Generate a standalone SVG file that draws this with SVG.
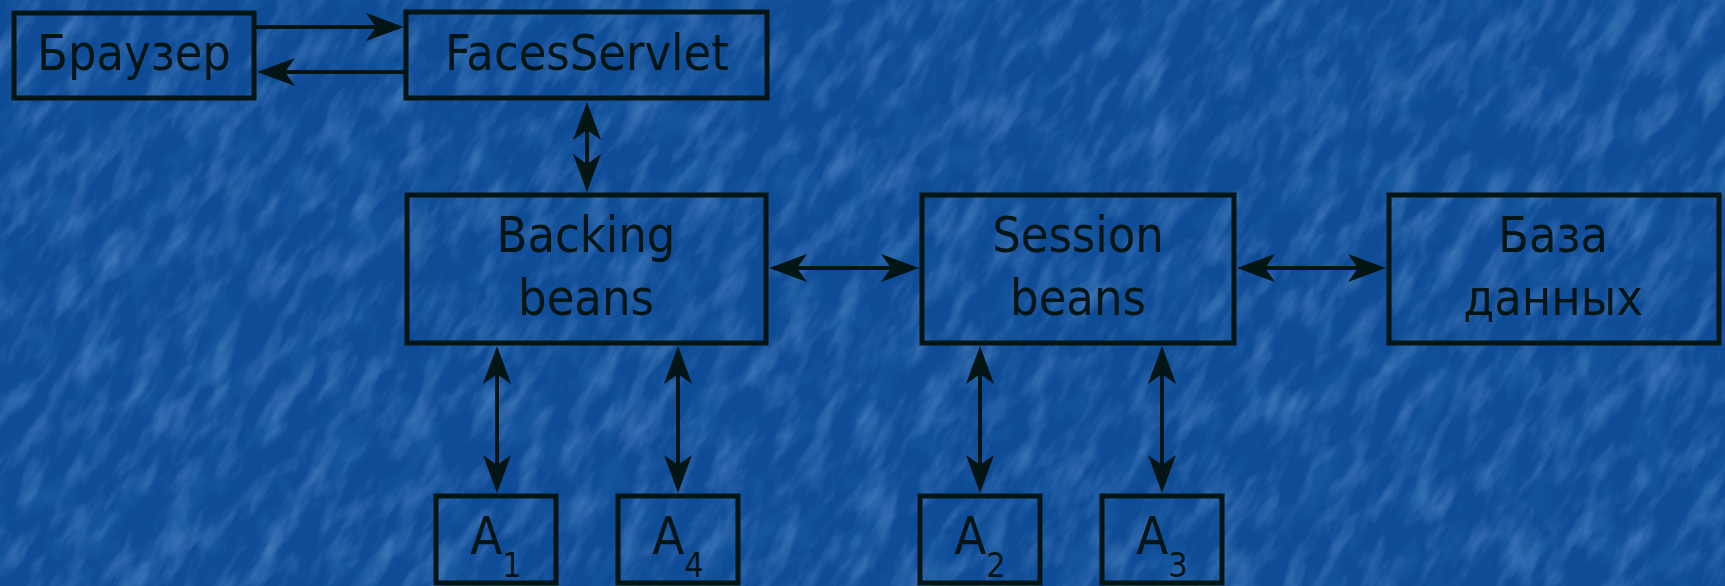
<svg xmlns="http://www.w3.org/2000/svg" width="1725" height="586" viewBox="0 0 1725 586">
<style>
.box{fill:none;stroke:#041516;stroke-width:5}
.lbl{font-family:'DejaVu Sans Condensed','DejaVu Sans',sans-serif;font-stretch:condensed;font-size:50px;fill:#041516;text-anchor:middle}
.big{font-size:52px}
.sub{font-size:34px}
.con{stroke:#041516;stroke-width:4;fill:none}
.one{marker-end:url(#ah)}
.two{marker-start:url(#ah);marker-end:url(#ah)}
</style>
<defs>
<marker id="ah" viewBox="0 0 38 28" refX="32" refY="14" markerWidth="38" markerHeight="28" markerUnits="userSpaceOnUse" orient="auto-start-reverse">
<path d="M38,14 L0,0 L10,14 L0,28 Z" fill="#041516"/>
</marker>
<filter id="tex" x="0" y="0" width="100%" height="100%">
<feTurbulence type="fractalNoise" baseFrequency="0.018 0.05" numOctaves="4" seed="7"/>
<feColorMatrix type="matrix" values="0 0 0 0 0.3  0 0 0 0 0.52  0 0 0 0 0.88  0.75 0 0 0 -0.34"/>
</filter>
<filter id="tex2" x="0" y="0" width="100%" height="100%">
<feTurbulence type="fractalNoise" baseFrequency="0.02 0.035" numOctaves="3" seed="2"/>
<feColorMatrix type="matrix" values="0 0 0 0 0.02  0 0 0 0 0.18  0 0 0 0 0.45  -0.9 0 0 0 0.45"/>
</filter>
</defs>
<rect width="1725" height="586" fill="#0f4c97"/>
<g transform="rotate(-60 862 293)">
<rect x="-88" y="-657" width="1900" height="1900" filter="url(#tex2)"/>
<rect x="-88" y="-657" width="1900" height="1900" filter="url(#tex)"/>
</g>
<g id="connectors">
<line class="con one" x1="256" y1="27" x2="398" y2="27"/>
<line class="con one" x1="404" y1="72" x2="263" y2="72"/>
<line class="con two" x1="587" y1="108" x2="587" y2="186"/>
<line class="con two" x1="775" y1="268" x2="913" y2="268"/>
<line class="con two" x1="1243" y1="268" x2="1380" y2="268"/>
<line class="con two" x1="497" y1="352" x2="497" y2="487"/>
<line class="con two" x1="678" y1="352" x2="678" y2="487"/>
<line class="con two" x1="980" y1="352" x2="980" y2="487"/>
<line class="con two" x1="1162" y1="352" x2="1162" y2="487"/>
</g>
<g id="browser">
<rect class="box" x="14" y="13" width="240" height="85"/>
<text class="lbl" x="134" y="70">Браузер</text>
</g>
<g id="facesservlet">
<rect class="box" x="406" y="12" width="361" height="86"/>
<text class="lbl" x="587" y="70">FacesServlet</text>
</g>
<g id="backing">
<rect class="box" x="407" y="195" width="359" height="148"/>
<text class="lbl" x="586" y="252">Backing</text>
<text class="lbl" x="586" y="315">beans</text>
</g>
<g id="session">
<rect class="box" x="922" y="195" width="312" height="148"/>
<text class="lbl" x="1078" y="252">Session</text>
<text class="lbl" x="1078" y="315">beans</text>
</g>
<g id="database">
<rect class="box" x="1389" y="195" width="330" height="148"/>
<text class="lbl" x="1553" y="252">База</text>
<text class="lbl" x="1553" y="315">данных</text>
</g>
<g id="a1">
<rect class="box" x="436" y="496" width="120" height="87"/>
<text class="lbl big" x="496" y="554">A<tspan class="sub" dy="23">1</tspan></text>
</g>
<g id="a4">
<rect class="box" x="618" y="496" width="120" height="87"/>
<text class="lbl big" x="678" y="554">A<tspan class="sub" dy="23">4</tspan></text>
</g>
<g id="a2">
<rect class="box" x="920" y="496" width="120" height="87"/>
<text class="lbl big" x="980" y="554">A<tspan class="sub" dy="23">2</tspan></text>
</g>
<g id="a3">
<rect class="box" x="1102" y="496" width="120" height="87"/>
<text class="lbl big" x="1162" y="554">A<tspan class="sub" dy="23">3</tspan></text>
</g>
</svg>
